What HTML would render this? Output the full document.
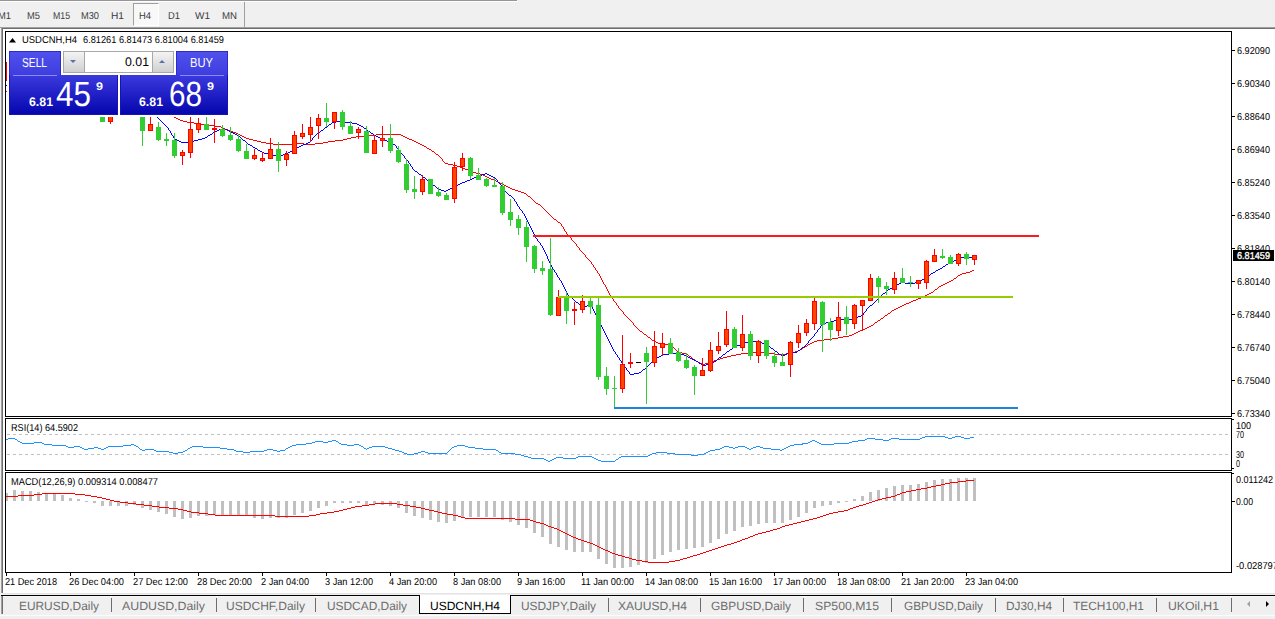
<!DOCTYPE html>
<html><head><meta charset="utf-8"><style>
html,body{margin:0;padding:0;}
body{width:1275px;height:619px;overflow:hidden;background:#f0f0f0;position:relative;font-family:"Liberation Sans",sans-serif;}
.a{position:absolute;}
svg{position:absolute;left:0;top:0;}
</style></head><body>
<div class="a" style="left:0;top:0;width:517px;height:1px;background:#969696"></div>
<div class="a" style="left:0;top:1px;width:518px;height:1px;background:#fff"></div>
<div class="a" style="left:133px;top:3px;width:26px;height:23px;box-sizing:border-box;border-left:1px solid #a0a0a0;border-top:1px solid #a0a0a0;border-right:1px solid #fff;border-bottom:1px solid #fff;background:#f8f8f8"></div>
<div class="a" style="left:244px;top:2px;width:1px;height:25px;background:#a0a0a0"></div>
<div class="a" style="left:3px;top:29px;width:1272px;height:564px;background:#fff"></div>
<svg width="1275" height="619">
<g shape-rendering="crispEdges"><rect x="0" y="27" width="1275" height="1" fill="#a0a0a0"/><rect x="2" y="28" width="1273" height="1" fill="#6e6e6e"/><rect x="1" y="28" width="1" height="565" fill="#a0a0a0"/><rect x="2" y="28" width="1" height="565" fill="#6e6e6e"/><rect x="3" y="593" width="1272" height="1" fill="#e3e3e3"/><rect x="5.5" y="31.5" width="1226" height="385" fill="none" stroke="#000" stroke-width="1"/><rect x="5.5" y="418.5" width="1226" height="52" fill="none" stroke="#000" stroke-width="1"/><rect x="5.5" y="472.5" width="1226" height="100" fill="none" stroke="#000" stroke-width="1"/><rect x="1232" y="50" width="3" height="1" fill="#000"/><rect x="1232" y="83" width="3" height="1" fill="#000"/><rect x="1232" y="116" width="3" height="1" fill="#000"/><rect x="1232" y="149" width="3" height="1" fill="#000"/><rect x="1232" y="182" width="3" height="1" fill="#000"/><rect x="1232" y="215" width="3" height="1" fill="#000"/><rect x="1232" y="248" width="3" height="1" fill="#000"/><rect x="1232" y="281" width="3" height="1" fill="#000"/><rect x="1232" y="314" width="3" height="1" fill="#000"/><rect x="1232" y="347" width="3" height="1" fill="#000"/><rect x="1232" y="380" width="3" height="1" fill="#000"/><rect x="1232" y="413" width="3" height="1" fill="#000"/><rect x="1232" y="419" width="2" height="1" fill="#000"/><rect x="1232" y="468" width="2" height="1" fill="#000"/><rect x="1232" y="501" width="3" height="1" fill="#000"/><rect x="1232" y="473" width="2" height="1" fill="#000"/><rect x="6" y="573" width="1" height="3" fill="#000"/><rect x="70" y="573" width="1" height="3" fill="#000"/><rect x="134" y="573" width="1" height="3" fill="#000"/><rect x="198" y="573" width="1" height="3" fill="#000"/><rect x="262" y="573" width="1" height="3" fill="#000"/><rect x="326" y="573" width="1" height="3" fill="#000"/><rect x="390" y="573" width="1" height="3" fill="#000"/><rect x="454" y="573" width="1" height="3" fill="#000"/><rect x="518" y="573" width="1" height="3" fill="#000"/><rect x="582" y="573" width="1" height="3" fill="#000"/><rect x="646" y="573" width="1" height="3" fill="#000"/><rect x="710" y="573" width="1" height="3" fill="#000"/><rect x="774" y="573" width="1" height="3" fill="#000"/><rect x="838" y="573" width="1" height="3" fill="#000"/><rect x="902" y="573" width="1" height="3" fill="#000"/><rect x="966" y="573" width="1" height="3" fill="#000"/></g><defs><clipPath id="cm"><rect x="6" y="32" width="1225" height="384"/></clipPath><clipPath id="cr"><rect x="6" y="419" width="1225" height="51"/></clipPath><clipPath id="cd"><rect x="6" y="473" width="1225" height="99"/></clipPath></defs><g clip-path="url(#cm)" shape-rendering="crispEdges"><path d="M174 117h2v1h-2zM176 118h2v1h-2zM178 119h2v1h-2zM180 120h3v1h-3zM183 121h4v1h-4zM187 122h7v1h-7zM194 123h7v1h-7zM201 124h5v1h-5zM206 125h8v1h-8zM214 126h7v1h-7zM221 127h2v1h-2zM223 128h2v1h-2zM225 129h3v1h-3zM228 130h3v1h-3zM231 131h2v1h-2zM233 132h3v1h-3zM236 133h2v1h-2zM238 134h2v1h-2zM376 134h25v1h-25zM240 135h2v1h-2zM364 135h12v1h-12zM401 135h2v1h-2zM242 136h2v1h-2zM356 136h8v1h-8zM403 136h2v1h-2zM244 137h2v1h-2zM351 137h5v1h-5zM405 137h2v1h-2zM246 138h3v1h-3zM347 138h4v1h-4zM407 138h2v1h-2zM249 139h4v1h-4zM343 139h4v1h-4zM409 139h3v1h-3zM253 140h4v1h-4zM335 140h8v1h-8zM412 140h2v1h-2zM257 141h4v1h-4zM328 141h7v1h-7zM414 141h2v1h-2zM261 142h5v1h-5zM323 142h5v1h-5zM416 142h2v1h-2zM266 143h7v1h-7zM294 143h10v1h-10zM315 143h8v1h-8zM418 143h2v1h-2zM273 144h21v1h-21zM304 144h11v1h-11zM420 144h2v1h-2zM422 145h2v1h-2zM424 146h2v1h-2zM426 147h1v1h-1zM427 148h2v1h-2zM429 149h2v1h-2zM431 150h1v1h-1zM432 151h2v1h-2zM434 152h1v1h-1zM435 153h1v1h-1zM436 154h2v1h-2zM438 155h1v1h-1zM439 156h1v1h-1zM440 157h1v1h-1zM441 158h1v1h-1zM442 159h1v1h-1zM442 160h1v1h-1zM443 161h1v1h-1zM444 162h1v1h-1zM445 163h3v1h-3zM448 164h5v1h-5zM453 165h4v1h-4zM457 166h3v1h-3zM460 167h2v1h-2zM462 168h3v1h-3zM465 169h3v1h-3zM468 170h2v1h-2zM470 171h3v1h-3zM473 172h3v1h-3zM476 173h4v1h-4zM480 174h3v1h-3zM483 175h2v1h-2zM485 176h2v1h-2zM487 177h2v1h-2zM489 178h2v1h-2zM491 179h3v1h-3zM494 180h2v1h-2zM496 181h2v1h-2zM498 182h2v1h-2zM500 183h2v1h-2zM502 184h2v1h-2zM504 185h2v1h-2zM506 186h2v1h-2zM508 187h2v1h-2zM510 188h2v1h-2zM512 189h3v1h-3zM515 190h3v1h-3zM518 191h3v1h-3zM521 192h3v1h-3zM524 193h2v1h-2zM526 194h1v1h-1zM527 195h1v1h-1zM528 196h2v1h-2zM530 197h1v1h-1zM531 198h1v1h-1zM532 199h1v1h-1zM533 200h1v1h-1zM534 201h1v1h-1zM535 202h1v1h-1zM536 203h2v1h-2zM538 204h2v1h-2zM540 205h1v1h-1zM541 206h1v1h-1zM542 207h1v1h-1zM543 208h1v1h-1zM544 209h1v1h-1zM545 210h1v1h-1zM546 211h1v1h-1zM547 212h1v1h-1zM548 213h1v1h-1zM549 214h1v1h-1zM550 215h1v1h-1zM551 216h1v1h-1zM552 217h1v1h-1zM553 218h1v1h-1zM554 219h2v1h-2zM556 220h1v1h-1zM557 221h1v1h-1zM558 222h2v1h-2zM560 223h1v1h-1zM561 224h1v1h-1zM561 225h1v1h-1zM562 226h1v1h-1zM563 227h1v1h-1zM563 228h1v1h-1zM564 229h1v1h-1zM564 230h1v1h-1zM565 231h1v1h-1zM566 232h1v1h-1zM566 233h1v1h-1zM567 234h1v1h-1zM568 235h1v1h-1zM569 236h1v1h-1zM570 237h1v1h-1zM571 238h1v1h-1zM571 239h1v1h-1zM572 240h1v1h-1zM573 241h1v1h-1zM574 242h1v1h-1zM575 243h1v1h-1zM576 244h1v1h-1zM576 245h1v1h-1zM577 246h1v1h-1zM578 247h1v1h-1zM579 248h1v1h-1zM579 249h1v1h-1zM580 250h1v1h-1zM581 251h1v1h-1zM582 252h1v1h-1zM583 253h1v1h-1zM584 254h1v1h-1zM585 255h1v1h-1zM585 256h1v1h-1zM586 257h1v1h-1zM587 258h1v1h-1zM588 259h1v1h-1zM589 260h1v1h-1zM590 261h1v1h-1zM591 262h1v1h-1zM591 263h1v1h-1zM592 264h1v1h-1zM593 265h1v1h-1zM593 266h1v1h-1zM594 267h1v1h-1zM595 268h1v1h-1zM595 269h1v1h-1zM596 270h1v1h-1zM972 270h2v1h-2zM597 271h1v1h-1zM970 271h2v1h-2zM597 272h1v1h-1zM966 272h4v1h-4zM598 273h1v1h-1zM962 273h4v1h-4zM599 274h1v1h-1zM960 274h2v1h-2zM599 275h1v1h-1zM958 275h2v1h-2zM600 276h1v1h-1zM957 276h1v1h-1zM600 277h1v1h-1zM956 277h1v1h-1zM601 278h1v1h-1zM954 278h2v1h-2zM601 279h1v1h-1zM953 279h1v1h-1zM602 280h1v1h-1zM951 280h2v1h-2zM602 281h1v1h-1zM949 281h2v1h-2zM603 282h1v1h-1zM947 282h2v1h-2zM603 283h1v1h-1zM945 283h2v1h-2zM604 284h1v1h-1zM943 284h2v1h-2zM605 285h1v1h-1zM941 285h2v1h-2zM605 286h1v1h-1zM939 286h2v1h-2zM606 287h1v1h-1zM938 287h1v1h-1zM606 288h1v1h-1zM937 288h1v1h-1zM607 289h1v1h-1zM935 289h2v1h-2zM607 290h1v1h-1zM934 290h1v1h-1zM608 291h1v1h-1zM933 291h1v1h-1zM608 292h1v1h-1zM931 292h2v1h-2zM609 293h1v1h-1zM929 293h2v1h-2zM609 294h1v1h-1zM927 294h2v1h-2zM610 295h1v1h-1zM925 295h2v1h-2zM611 296h1v1h-1zM923 296h2v1h-2zM611 297h1v1h-1zM921 297h2v1h-2zM612 298h1v1h-1zM918 298h3v1h-3zM613 299h1v1h-1zM916 299h2v1h-2zM613 300h1v1h-1zM913 300h3v1h-3zM614 301h1v1h-1zM911 301h2v1h-2zM615 302h1v1h-1zM909 302h2v1h-2zM616 303h1v1h-1zM906 303h3v1h-3zM616 304h1v1h-1zM904 304h2v1h-2zM617 305h1v1h-1zM902 305h2v1h-2zM618 306h1v1h-1zM900 306h2v1h-2zM618 307h1v1h-1zM898 307h2v1h-2zM619 308h1v1h-1zM896 308h2v1h-2zM620 309h1v1h-1zM894 309h2v1h-2zM621 310h1v1h-1zM892 310h2v1h-2zM622 311h1v1h-1zM891 311h1v1h-1zM623 312h1v1h-1zM890 312h1v1h-1zM623 313h1v1h-1zM888 313h2v1h-2zM624 314h1v1h-1zM887 314h1v1h-1zM625 315h1v1h-1zM885 315h2v1h-2zM626 316h1v1h-1zM884 316h1v1h-1zM627 317h1v1h-1zM883 317h1v1h-1zM628 318h1v1h-1zM881 318h2v1h-2zM629 319h1v1h-1zM880 319h1v1h-1zM630 320h1v1h-1zM878 320h2v1h-2zM631 321h1v1h-1zM877 321h1v1h-1zM632 322h1v1h-1zM875 322h2v1h-2zM633 323h1v1h-1zM874 323h1v1h-1zM633 324h1v1h-1zM873 324h1v1h-1zM634 325h1v1h-1zM871 325h2v1h-2zM635 326h1v1h-1zM869 326h2v1h-2zM636 327h1v1h-1zM867 327h2v1h-2zM637 328h1v1h-1zM865 328h2v1h-2zM638 329h1v1h-1zM863 329h2v1h-2zM639 330h1v1h-1zM860 330h3v1h-3zM640 331h2v1h-2zM858 331h2v1h-2zM642 332h1v1h-1zM856 332h2v1h-2zM643 333h1v1h-1zM854 333h2v1h-2zM644 334h2v1h-2zM852 334h2v1h-2zM646 335h1v1h-1zM849 335h3v1h-3zM647 336h1v1h-1zM843 336h6v1h-6zM648 337h2v1h-2zM838 337h5v1h-5zM650 338h1v1h-1zM832 338h6v1h-6zM651 339h1v1h-1zM824 339h8v1h-8zM652 340h2v1h-2zM817 340h7v1h-7zM654 341h2v1h-2zM814 341h3v1h-3zM656 342h2v1h-2zM812 342h2v1h-2zM658 343h2v1h-2zM810 343h2v1h-2zM660 344h11v1h-11zM808 344h2v1h-2zM671 345h1v1h-1zM807 345h1v1h-1zM672 346h1v1h-1zM805 346h2v1h-2zM673 347h1v1h-1zM803 347h2v1h-2zM674 348h1v1h-1zM802 348h1v1h-1zM675 349h1v1h-1zM800 349h2v1h-2zM676 350h1v1h-1zM798 350h2v1h-2zM677 351h2v1h-2zM795 351h3v1h-3zM679 352h3v1h-3zM752 352h13v1h-13zM793 352h2v1h-2zM682 353h4v1h-4zM741 353h11v1h-11zM765 353h10v1h-10zM786 353h7v1h-7zM686 354h2v1h-2zM736 354h5v1h-5zM775 354h11v1h-11zM688 355h1v1h-1zM731 355h5v1h-5zM689 356h2v1h-2zM727 356h4v1h-4zM691 357h1v1h-1zM723 357h4v1h-4zM692 358h1v1h-1zM720 358h3v1h-3zM693 359h2v1h-2zM717 359h3v1h-3zM695 360h1v1h-1zM714 360h3v1h-3zM696 361h2v1h-2zM711 361h3v1h-3zM698 362h2v1h-2zM708 362h3v1h-3zM700 363h2v1h-2zM705 363h3v1h-3zM702 364h3v1h-3z" fill="#ff0000"/><path d="M157 117h1v1h-1zM158 118h1v1h-1zM159 119h1v1h-1zM160 120h1v1h-1zM161 121h1v1h-1zM336 121h8v1h-8zM162 122h1v1h-1zM332 122h4v1h-4zM344 122h8v1h-8zM163 123h1v1h-1zM331 123h1v1h-1zM352 123h5v1h-5zM164 124h1v1h-1zM329 124h2v1h-2zM357 124h2v1h-2zM165 125h1v1h-1zM328 125h1v1h-1zM359 125h2v1h-2zM166 126h1v1h-1zM327 126h1v1h-1zM361 126h2v1h-2zM167 127h1v1h-1zM325 127h2v1h-2zM363 127h1v1h-1zM168 128h1v1h-1zM324 128h1v1h-1zM364 128h2v1h-2zM168 129h1v1h-1zM219 129h8v1h-8zM323 129h1v1h-1zM366 129h1v1h-1zM169 130h1v1h-1zM217 130h2v1h-2zM227 130h2v1h-2zM321 130h2v1h-2zM367 130h1v1h-1zM170 131h1v1h-1zM215 131h2v1h-2zM229 131h2v1h-2zM320 131h1v1h-1zM368 131h2v1h-2zM170 132h1v1h-1zM213 132h2v1h-2zM231 132h2v1h-2zM319 132h1v1h-1zM370 132h1v1h-1zM171 133h1v1h-1zM212 133h1v1h-1zM233 133h2v1h-2zM317 133h2v1h-2zM371 133h2v1h-2zM171 134h1v1h-1zM210 134h2v1h-2zM235 134h2v1h-2zM316 134h1v1h-1zM373 134h1v1h-1zM172 135h1v1h-1zM208 135h2v1h-2zM237 135h2v1h-2zM315 135h1v1h-1zM374 135h2v1h-2zM173 136h1v1h-1zM207 136h1v1h-1zM239 136h1v1h-1zM314 136h1v1h-1zM376 136h2v1h-2zM173 137h1v1h-1zM205 137h2v1h-2zM240 137h1v1h-1zM313 137h1v1h-1zM378 137h2v1h-2zM174 138h1v1h-1zM202 138h3v1h-3zM241 138h1v1h-1zM312 138h1v1h-1zM380 138h2v1h-2zM175 139h2v1h-2zM198 139h4v1h-4zM242 139h1v1h-1zM312 139h1v1h-1zM382 139h3v1h-3zM177 140h2v1h-2zM194 140h4v1h-4zM243 140h2v1h-2zM311 140h1v1h-1zM385 140h2v1h-2zM179 141h2v1h-2zM190 141h4v1h-4zM245 141h1v1h-1zM310 141h1v1h-1zM387 141h2v1h-2zM181 142h9v1h-9zM246 142h1v1h-1zM308 142h2v1h-2zM389 142h2v1h-2zM247 143h1v1h-1zM306 143h2v1h-2zM391 143h2v1h-2zM248 144h2v1h-2zM303 144h3v1h-3zM393 144h2v1h-2zM250 145h2v1h-2zM301 145h2v1h-2zM395 145h1v1h-1zM252 146h1v1h-1zM299 146h2v1h-2zM396 146h1v1h-1zM253 147h2v1h-2zM297 147h2v1h-2zM396 147h1v1h-1zM255 148h2v1h-2zM296 148h1v1h-1zM397 148h1v1h-1zM257 149h1v1h-1zM294 149h2v1h-2zM398 149h1v1h-1zM258 150h2v1h-2zM292 150h2v1h-2zM399 150h1v1h-1zM260 151h2v1h-2zM290 151h2v1h-2zM399 151h1v1h-1zM262 152h2v1h-2zM288 152h2v1h-2zM400 152h1v1h-1zM264 153h4v1h-4zM285 153h3v1h-3zM401 153h1v1h-1zM268 154h4v1h-4zM283 154h2v1h-2zM402 154h1v1h-1zM272 155h11v1h-11zM403 155h1v1h-1zM404 156h1v1h-1zM404 157h1v1h-1zM405 158h1v1h-1zM406 159h1v1h-1zM407 160h1v1h-1zM408 161h1v1h-1zM408 162h1v1h-1zM409 163h1v1h-1zM410 164h1v1h-1zM410 165h1v1h-1zM411 166h1v1h-1zM412 167h1v1h-1zM412 168h1v1h-1zM413 169h1v1h-1zM414 170h1v1h-1zM415 171h2v1h-2zM417 172h1v1h-1zM418 173h1v1h-1zM485 173h2v1h-2zM419 174h2v1h-2zM482 174h3v1h-3zM487 174h2v1h-2zM421 175h1v1h-1zM479 175h3v1h-3zM489 175h2v1h-2zM422 176h1v1h-1zM476 176h3v1h-3zM491 176h2v1h-2zM423 177h2v1h-2zM474 177h2v1h-2zM493 177h2v1h-2zM425 178h1v1h-1zM472 178h2v1h-2zM495 178h1v1h-1zM426 179h1v1h-1zM470 179h2v1h-2zM496 179h1v1h-1zM427 180h2v1h-2zM467 180h3v1h-3zM497 180h1v1h-1zM429 181h1v1h-1zM465 181h2v1h-2zM497 181h1v1h-1zM430 182h1v1h-1zM462 182h3v1h-3zM498 182h1v1h-1zM431 183h1v1h-1zM460 183h2v1h-2zM499 183h1v1h-1zM432 184h1v1h-1zM458 184h2v1h-2zM500 184h1v1h-1zM433 185h2v1h-2zM456 185h2v1h-2zM501 185h1v1h-1zM435 186h1v1h-1zM454 186h2v1h-2zM501 186h1v1h-1zM436 187h1v1h-1zM452 187h2v1h-2zM502 187h1v1h-1zM437 188h2v1h-2zM450 188h2v1h-2zM503 188h1v1h-1zM439 189h2v1h-2zM448 189h2v1h-2zM504 189h1v1h-1zM441 190h3v1h-3zM446 190h2v1h-2zM504 190h1v1h-1zM444 191h2v1h-2zM505 191h1v1h-1zM506 192h1v1h-1zM507 193h1v1h-1zM508 194h1v1h-1zM509 195h2v1h-2zM511 196h1v1h-1zM512 197h1v1h-1zM513 198h1v1h-1zM514 199h1v1h-1zM514 200h1v1h-1zM515 201h1v1h-1zM516 202h1v1h-1zM516 203h1v1h-1zM517 204h1v1h-1zM517 205h1v1h-1zM518 206h1v1h-1zM519 207h1v1h-1zM519 208h1v1h-1zM520 209h1v1h-1zM521 210h1v1h-1zM522 211h1v1h-1zM522 212h1v1h-1zM523 213h1v1h-1zM524 214h1v1h-1zM524 215h1v1h-1zM525 216h1v1h-1zM525 217h1v1h-1zM526 218h1v1h-1zM526 219h1v1h-1zM527 220h1v1h-1zM527 221h1v1h-1zM528 222h1v1h-1zM528 223h1v1h-1zM529 224h1v1h-1zM529 225h1v1h-1zM530 226h1v1h-1zM530 227h1v1h-1zM531 228h1v1h-1zM531 229h1v1h-1zM532 230h1v1h-1zM532 231h1v1h-1zM533 232h1v1h-1zM533 233h1v1h-1zM534 234h1v1h-1zM534 235h1v1h-1zM535 236h1v1h-1zM535 237h1v1h-1zM536 238h1v1h-1zM537 239h1v1h-1zM537 240h1v1h-1zM538 241h1v1h-1zM539 242h1v1h-1zM540 243h1v1h-1zM540 244h1v1h-1zM541 245h1v1h-1zM542 246h1v1h-1zM542 247h1v1h-1zM543 248h1v1h-1zM543 249h1v1h-1zM544 250h1v1h-1zM544 251h1v1h-1zM545 252h1v1h-1zM545 253h1v1h-1zM546 254h1v1h-1zM546 255h1v1h-1zM547 256h1v1h-1zM547 257h1v1h-1zM960 257h15v1h-15zM547 258h1v1h-1zM958 258h2v1h-2zM548 259h1v1h-1zM956 259h2v1h-2zM548 260h1v1h-1zM954 260h2v1h-2zM549 261h1v1h-1zM952 261h2v1h-2zM549 262h1v1h-1zM950 262h2v1h-2zM550 263h1v1h-1zM948 263h2v1h-2zM550 264h1v1h-1zM946 264h2v1h-2zM551 265h1v1h-1zM945 265h1v1h-1zM551 266h1v1h-1zM943 266h2v1h-2zM552 267h1v1h-1zM942 267h1v1h-1zM552 268h1v1h-1zM940 268h2v1h-2zM553 269h1v1h-1zM938 269h2v1h-2zM554 270h1v1h-1zM936 270h2v1h-2zM554 271h1v1h-1zM935 271h1v1h-1zM555 272h1v1h-1zM933 272h2v1h-2zM556 273h1v1h-1zM931 273h2v1h-2zM556 274h1v1h-1zM930 274h1v1h-1zM557 275h1v1h-1zM928 275h2v1h-2zM557 276h1v1h-1zM927 276h1v1h-1zM558 277h1v1h-1zM925 277h2v1h-2zM559 278h1v1h-1zM924 278h1v1h-1zM559 279h1v1h-1zM922 279h2v1h-2zM560 280h1v1h-1zM920 280h2v1h-2zM561 281h1v1h-1zM917 281h3v1h-3zM561 282h1v1h-1zM901 282h4v1h-4zM915 282h2v1h-2zM562 283h1v1h-1zM899 283h2v1h-2zM905 283h10v1h-10zM562 284h1v1h-1zM897 284h2v1h-2zM563 285h1v1h-1zM895 285h2v1h-2zM563 286h1v1h-1zM893 286h2v1h-2zM564 287h1v1h-1zM892 287h1v1h-1zM564 288h1v1h-1zM890 288h2v1h-2zM565 289h1v1h-1zM888 289h2v1h-2zM565 290h1v1h-1zM887 290h1v1h-1zM566 291h1v1h-1zM886 291h1v1h-1zM566 292h1v1h-1zM885 292h1v1h-1zM567 293h1v1h-1zM883 293h2v1h-2zM567 294h1v1h-1zM882 294h1v1h-1zM568 295h1v1h-1zM881 295h1v1h-1zM569 296h1v1h-1zM880 296h1v1h-1zM570 297h2v1h-2zM879 297h1v1h-1zM572 298h1v1h-1zM878 298h1v1h-1zM573 299h1v1h-1zM877 299h1v1h-1zM574 300h1v1h-1zM876 300h1v1h-1zM575 301h1v1h-1zM875 301h1v1h-1zM576 302h2v1h-2zM874 302h1v1h-1zM578 303h1v1h-1zM873 303h1v1h-1zM579 304h2v1h-2zM589 304h2v1h-2zM872 304h1v1h-1zM581 305h4v1h-4zM587 305h2v1h-2zM591 305h1v1h-1zM870 305h2v1h-2zM585 306h2v1h-2zM591 306h1v1h-1zM869 306h1v1h-1zM592 307h1v1h-1zM868 307h1v1h-1zM592 308h1v1h-1zM867 308h1v1h-1zM593 309h1v1h-1zM866 309h1v1h-1zM593 310h1v1h-1zM866 310h1v1h-1zM594 311h1v1h-1zM865 311h1v1h-1zM594 312h1v1h-1zM864 312h1v1h-1zM595 313h1v1h-1zM863 313h1v1h-1zM595 314h1v1h-1zM863 314h1v1h-1zM596 315h1v1h-1zM861 315h2v1h-2zM596 316h1v1h-1zM858 316h3v1h-3zM597 317h1v1h-1zM855 317h3v1h-3zM597 318h1v1h-1zM852 318h3v1h-3zM598 319h1v1h-1zM840 319h12v1h-12zM598 320h1v1h-1zM834 320h6v1h-6zM599 321h1v1h-1zM830 321h4v1h-4zM599 322h1v1h-1zM826 322h4v1h-4zM600 323h1v1h-1zM824 323h2v1h-2zM600 324h1v1h-1zM822 324h2v1h-2zM601 325h1v1h-1zM821 325h1v1h-1zM601 326h1v1h-1zM820 326h1v1h-1zM602 327h1v1h-1zM820 327h1v1h-1zM602 328h1v1h-1zM819 328h1v1h-1zM603 329h1v1h-1zM818 329h1v1h-1zM603 330h1v1h-1zM817 330h1v1h-1zM604 331h1v1h-1zM817 331h1v1h-1zM604 332h1v1h-1zM816 332h1v1h-1zM605 333h1v1h-1zM815 333h1v1h-1zM605 334h1v1h-1zM814 334h1v1h-1zM606 335h1v1h-1zM814 335h1v1h-1zM606 336h1v1h-1zM813 336h1v1h-1zM607 337h1v1h-1zM812 337h1v1h-1zM607 338h1v1h-1zM811 338h1v1h-1zM608 339h1v1h-1zM810 339h1v1h-1zM608 340h1v1h-1zM809 340h1v1h-1zM609 341h1v1h-1zM751 341h7v1h-7zM808 341h1v1h-1zM609 342h1v1h-1zM745 342h6v1h-6zM758 342h4v1h-4zM808 342h1v1h-1zM610 343h1v1h-1zM742 343h3v1h-3zM762 343h3v1h-3zM807 343h1v1h-1zM610 344h1v1h-1zM740 344h2v1h-2zM765 344h2v1h-2zM806 344h1v1h-1zM611 345h1v1h-1zM737 345h3v1h-3zM767 345h1v1h-1zM805 345h1v1h-1zM611 346h1v1h-1zM735 346h2v1h-2zM768 346h2v1h-2zM804 346h1v1h-1zM612 347h1v1h-1zM733 347h2v1h-2zM770 347h1v1h-1zM802 347h2v1h-2zM612 348h1v1h-1zM732 348h1v1h-1zM771 348h2v1h-2zM801 348h1v1h-1zM613 349h1v1h-1zM730 349h2v1h-2zM773 349h1v1h-1zM800 349h1v1h-1zM613 350h1v1h-1zM729 350h1v1h-1zM774 350h1v1h-1zM798 350h2v1h-2zM614 351h1v1h-1zM727 351h2v1h-2zM775 351h2v1h-2zM797 351h1v1h-1zM615 352h1v1h-1zM726 352h1v1h-1zM777 352h1v1h-1zM792 352h5v1h-5zM615 353h1v1h-1zM669 353h10v1h-10zM725 353h1v1h-1zM778 353h1v1h-1zM787 353h5v1h-5zM616 354h1v1h-1zM663 354h6v1h-6zM679 354h5v1h-5zM723 354h2v1h-2zM779 354h2v1h-2zM785 354h2v1h-2zM617 355h1v1h-1zM661 355h2v1h-2zM684 355h2v1h-2zM722 355h1v1h-1zM781 355h1v1h-1zM783 355h2v1h-2zM617 356h1v1h-1zM659 356h2v1h-2zM686 356h2v1h-2zM721 356h1v1h-1zM782 356h1v1h-1zM618 357h1v1h-1zM657 357h2v1h-2zM688 357h2v1h-2zM719 357h2v1h-2zM619 358h1v1h-1zM655 358h2v1h-2zM690 358h2v1h-2zM718 358h1v1h-1zM619 359h1v1h-1zM654 359h1v1h-1zM692 359h2v1h-2zM717 359h1v1h-1zM620 360h1v1h-1zM653 360h1v1h-1zM694 360h2v1h-2zM716 360h1v1h-1zM621 361h1v1h-1zM652 361h1v1h-1zM696 361h2v1h-2zM714 361h2v1h-2zM621 362h1v1h-1zM651 362h1v1h-1zM698 362h1v1h-1zM713 362h1v1h-1zM622 363h1v1h-1zM650 363h1v1h-1zM699 363h2v1h-2zM710 363h3v1h-3zM623 364h1v1h-1zM649 364h1v1h-1zM701 364h2v1h-2zM706 364h4v1h-4zM623 365h1v1h-1zM648 365h1v1h-1zM703 365h3v1h-3zM624 366h1v1h-1zM647 366h1v1h-1zM625 367h1v1h-1zM646 367h1v1h-1zM626 368h1v1h-1zM645 368h1v1h-1zM626 369h1v1h-1zM643 369h2v1h-2zM627 370h1v1h-1zM642 370h1v1h-1zM628 371h1v1h-1zM641 371h1v1h-1zM629 372h1v1h-1zM639 372h2v1h-2zM629 373h1v1h-1zM634 373h5v1h-5zM630 374h4v1h-4z" fill="#0000ff"/><rect x="6" y="62" width="1" height="19" fill="#ff0000"/>
<rect x="102" y="100" width="1" height="22" fill="#32cd32"/>
<rect x="100" y="100" width="5" height="22" fill="#32cd32"/>
<rect x="110" y="100" width="1" height="24" fill="#ff0000"/>
<rect x="108" y="100" width="5" height="22" fill="#ff0000"/>
<rect x="109" y="101" width="3" height="20" fill="#ff4500"/>
<rect x="142" y="117" width="1" height="29" fill="#32cd32"/>
<rect x="140" y="117" width="5" height="14" fill="#32cd32"/>
<rect x="150" y="117" width="1" height="14" fill="#ff0000"/>
<rect x="148" y="124" width="5" height="7" fill="#ff0000"/>
<rect x="149" y="125" width="3" height="5" fill="#ff4500"/>
<rect x="158" y="122" width="1" height="19" fill="#32cd32"/>
<rect x="156" y="127" width="5" height="13" fill="#32cd32"/>
<rect x="166" y="133" width="1" height="13" fill="#32cd32"/>
<rect x="164" y="139" width="5" height="2" fill="#32cd32"/>
<rect x="174" y="133" width="1" height="25" fill="#32cd32"/>
<rect x="172" y="140" width="5" height="16" fill="#32cd32"/>
<rect x="182" y="150" width="1" height="15" fill="#ff0000"/>
<rect x="180" y="152" width="5" height="4" fill="#ff0000"/>
<rect x="181" y="153" width="3" height="2" fill="#ff4500"/>
<rect x="190" y="117" width="1" height="41" fill="#ff0000"/>
<rect x="188" y="129" width="5" height="24" fill="#ff0000"/>
<rect x="189" y="130" width="3" height="22" fill="#ff4500"/>
<rect x="198" y="118" width="1" height="15" fill="#ff0000"/>
<rect x="196" y="123" width="5" height="7" fill="#ff0000"/>
<rect x="197" y="124" width="3" height="5" fill="#ff4500"/>
<rect x="206" y="117" width="1" height="13" fill="#32cd32"/>
<rect x="204" y="124" width="5" height="6" fill="#32cd32"/>
<rect x="214" y="119" width="1" height="24" fill="#ff0000"/>
<rect x="212" y="128" width="5" height="2" fill="#ff0000"/>
<rect x="222" y="125" width="1" height="12" fill="#32cd32"/>
<rect x="220" y="129" width="5" height="7" fill="#32cd32"/>
<rect x="230" y="127" width="1" height="14" fill="#32cd32"/>
<rect x="228" y="135" width="5" height="5" fill="#32cd32"/>
<rect x="238" y="134" width="1" height="18" fill="#32cd32"/>
<rect x="236" y="139" width="5" height="12" fill="#32cd32"/>
<rect x="246" y="144" width="1" height="15" fill="#32cd32"/>
<rect x="244" y="151" width="5" height="8" fill="#32cd32"/>
<rect x="254" y="149" width="1" height="11" fill="#ff0000"/>
<rect x="252" y="155" width="5" height="4" fill="#ff0000"/>
<rect x="253" y="156" width="3" height="2" fill="#ff4500"/>
<rect x="262" y="152" width="1" height="10" fill="#ff0000"/>
<rect x="260" y="158" width="5" height="3" fill="#ff0000"/>
<rect x="261" y="159" width="3" height="1" fill="#ff4500"/>
<rect x="270" y="138" width="1" height="21" fill="#ff0000"/>
<rect x="268" y="149" width="5" height="10" fill="#ff0000"/>
<rect x="269" y="150" width="3" height="8" fill="#ff4500"/>
<rect x="278" y="142" width="1" height="30" fill="#32cd32"/>
<rect x="276" y="149" width="5" height="12" fill="#32cd32"/>
<rect x="286" y="151" width="1" height="15" fill="#ff0000"/>
<rect x="284" y="154" width="5" height="6" fill="#ff0000"/>
<rect x="285" y="155" width="3" height="4" fill="#ff4500"/>
<rect x="294" y="131" width="1" height="23" fill="#ff0000"/>
<rect x="292" y="135" width="5" height="19" fill="#ff0000"/>
<rect x="293" y="136" width="3" height="17" fill="#ff4500"/>
<rect x="302" y="124" width="1" height="15" fill="#ff0000"/>
<rect x="300" y="133" width="5" height="4" fill="#ff0000"/>
<rect x="301" y="134" width="3" height="2" fill="#ff4500"/>
<rect x="310" y="117" width="1" height="25" fill="#ff0000"/>
<rect x="308" y="127" width="5" height="8" fill="#ff0000"/>
<rect x="309" y="128" width="3" height="6" fill="#ff4500"/>
<rect x="318" y="114" width="1" height="25" fill="#ff0000"/>
<rect x="316" y="118" width="5" height="8" fill="#ff0000"/>
<rect x="317" y="119" width="3" height="6" fill="#ff4500"/>
<rect x="326" y="103" width="1" height="24" fill="#32cd32"/>
<rect x="324" y="118" width="5" height="4" fill="#32cd32"/>
<rect x="334" y="112" width="1" height="17" fill="#ff0000"/>
<rect x="332" y="112" width="5" height="10" fill="#ff0000"/>
<rect x="333" y="113" width="3" height="8" fill="#ff4500"/>
<rect x="342" y="110" width="1" height="20" fill="#32cd32"/>
<rect x="340" y="112" width="5" height="15" fill="#32cd32"/>
<rect x="350" y="121" width="1" height="13" fill="#32cd32"/>
<rect x="348" y="126" width="5" height="8" fill="#32cd32"/>
<rect x="358" y="127" width="1" height="12" fill="#ff0000"/>
<rect x="356" y="129" width="5" height="4" fill="#ff0000"/>
<rect x="357" y="130" width="3" height="2" fill="#ff4500"/>
<rect x="366" y="126" width="1" height="27" fill="#32cd32"/>
<rect x="364" y="131" width="5" height="22" fill="#32cd32"/>
<rect x="374" y="135" width="1" height="19" fill="#ff0000"/>
<rect x="372" y="140" width="5" height="14" fill="#ff0000"/>
<rect x="373" y="141" width="3" height="12" fill="#ff4500"/>
<rect x="382" y="126" width="1" height="21" fill="#ff0000"/>
<rect x="380" y="138" width="5" height="3" fill="#ff0000"/>
<rect x="381" y="139" width="3" height="1" fill="#ff4500"/>
<rect x="390" y="124" width="1" height="29" fill="#32cd32"/>
<rect x="388" y="138" width="5" height="13" fill="#32cd32"/>
<rect x="398" y="146" width="1" height="17" fill="#32cd32"/>
<rect x="396" y="150" width="5" height="12" fill="#32cd32"/>
<rect x="406" y="159" width="1" height="34" fill="#32cd32"/>
<rect x="404" y="164" width="5" height="26" fill="#32cd32"/>
<rect x="414" y="176" width="1" height="23" fill="#32cd32"/>
<rect x="412" y="189" width="5" height="3" fill="#32cd32"/>
<rect x="422" y="175" width="1" height="20" fill="#ff0000"/>
<rect x="420" y="179" width="5" height="13" fill="#ff0000"/>
<rect x="421" y="180" width="3" height="11" fill="#ff4500"/>
<rect x="430" y="179" width="1" height="15" fill="#32cd32"/>
<rect x="428" y="179" width="5" height="15" fill="#32cd32"/>
<rect x="438" y="187" width="1" height="10" fill="#32cd32"/>
<rect x="436" y="192" width="5" height="4" fill="#32cd32"/>
<rect x="446" y="193" width="1" height="7" fill="#32cd32"/>
<rect x="444" y="195" width="5" height="5" fill="#32cd32"/>
<rect x="454" y="162" width="1" height="41" fill="#ff0000"/>
<rect x="452" y="167" width="5" height="32" fill="#ff0000"/>
<rect x="453" y="168" width="3" height="30" fill="#ff4500"/>
<rect x="462" y="153" width="1" height="18" fill="#ff0000"/>
<rect x="460" y="158" width="5" height="9" fill="#ff0000"/>
<rect x="461" y="159" width="3" height="7" fill="#ff4500"/>
<rect x="470" y="157" width="1" height="22" fill="#32cd32"/>
<rect x="468" y="158" width="5" height="18" fill="#32cd32"/>
<rect x="478" y="168" width="1" height="12" fill="#32cd32"/>
<rect x="476" y="175" width="5" height="5" fill="#32cd32"/>
<rect x="486" y="178" width="1" height="9" fill="#32cd32"/>
<rect x="484" y="179" width="5" height="7" fill="#32cd32"/>
<rect x="494" y="178" width="1" height="9" fill="#32cd32"/>
<rect x="492" y="185" width="5" height="2" fill="#32cd32"/>
<rect x="502" y="182" width="1" height="33" fill="#32cd32"/>
<rect x="500" y="186" width="5" height="27" fill="#32cd32"/>
<rect x="510" y="199" width="1" height="27" fill="#32cd32"/>
<rect x="508" y="212" width="5" height="8" fill="#32cd32"/>
<rect x="518" y="215" width="1" height="20" fill="#32cd32"/>
<rect x="516" y="219" width="5" height="9" fill="#32cd32"/>
<rect x="526" y="221" width="1" height="41" fill="#32cd32"/>
<rect x="524" y="227" width="5" height="20" fill="#32cd32"/>
<rect x="534" y="245" width="1" height="28" fill="#32cd32"/>
<rect x="532" y="246" width="5" height="23" fill="#32cd32"/>
<rect x="542" y="261" width="1" height="14" fill="#32cd32"/>
<rect x="540" y="268" width="5" height="3" fill="#32cd32"/>
<rect x="550" y="238" width="1" height="78" fill="#32cd32"/>
<rect x="548" y="269" width="5" height="46" fill="#32cd32"/>
<rect x="558" y="290" width="1" height="26" fill="#ff0000"/>
<rect x="556" y="297" width="5" height="19" fill="#ff0000"/>
<rect x="557" y="298" width="3" height="17" fill="#ff4500"/>
<rect x="566" y="292" width="1" height="32" fill="#32cd32"/>
<rect x="564" y="297" width="5" height="14" fill="#32cd32"/>
<rect x="574" y="302" width="1" height="23" fill="#ff0000"/>
<rect x="572" y="309" width="5" height="2" fill="#ff0000"/>
<rect x="582" y="295" width="1" height="18" fill="#ff0000"/>
<rect x="580" y="301" width="5" height="9" fill="#ff0000"/>
<rect x="581" y="302" width="3" height="7" fill="#ff4500"/>
<rect x="590" y="298" width="1" height="16" fill="#32cd32"/>
<rect x="588" y="301" width="5" height="6" fill="#32cd32"/>
<rect x="598" y="297" width="1" height="83" fill="#32cd32"/>
<rect x="596" y="305" width="5" height="72" fill="#32cd32"/>
<rect x="606" y="367" width="1" height="28" fill="#32cd32"/>
<rect x="604" y="376" width="5" height="13" fill="#32cd32"/>
<rect x="614" y="376" width="1" height="31" fill="#32cd32"/>
<rect x="612" y="388" width="5" height="1" fill="#32cd32"/>
<rect x="622" y="335" width="1" height="58" fill="#ff0000"/>
<rect x="620" y="364" width="5" height="25" fill="#ff0000"/>
<rect x="621" y="365" width="3" height="23" fill="#ff4500"/>
<rect x="630" y="353" width="1" height="15" fill="#ff0000"/>
<rect x="628" y="362" width="5" height="2" fill="#ff0000"/>
<rect x="636" y="362" width="5" height="1" fill="#000"/>
<rect x="646" y="347" width="1" height="57" fill="#32cd32"/>
<rect x="644" y="353" width="5" height="9" fill="#32cd32"/>
<rect x="654" y="331" width="1" height="36" fill="#ff0000"/>
<rect x="652" y="346" width="5" height="17" fill="#ff0000"/>
<rect x="653" y="347" width="3" height="15" fill="#ff4500"/>
<rect x="662" y="333" width="1" height="23" fill="#ff0000"/>
<rect x="660" y="343" width="5" height="5" fill="#ff0000"/>
<rect x="661" y="344" width="3" height="3" fill="#ff4500"/>
<rect x="670" y="338" width="1" height="16" fill="#32cd32"/>
<rect x="668" y="343" width="5" height="11" fill="#32cd32"/>
<rect x="678" y="348" width="1" height="14" fill="#32cd32"/>
<rect x="676" y="352" width="5" height="9" fill="#32cd32"/>
<rect x="686" y="353" width="1" height="16" fill="#32cd32"/>
<rect x="684" y="360" width="5" height="8" fill="#32cd32"/>
<rect x="694" y="365" width="1" height="30" fill="#32cd32"/>
<rect x="692" y="367" width="5" height="9" fill="#32cd32"/>
<rect x="702" y="358" width="1" height="18" fill="#ff0000"/>
<rect x="700" y="370" width="5" height="6" fill="#ff0000"/>
<rect x="701" y="371" width="3" height="4" fill="#ff4500"/>
<rect x="710" y="342" width="1" height="30" fill="#ff0000"/>
<rect x="708" y="350" width="5" height="21" fill="#ff0000"/>
<rect x="709" y="351" width="3" height="19" fill="#ff4500"/>
<rect x="718" y="332" width="1" height="22" fill="#ff0000"/>
<rect x="716" y="346" width="5" height="5" fill="#ff0000"/>
<rect x="717" y="347" width="3" height="3" fill="#ff4500"/>
<rect x="726" y="311" width="1" height="36" fill="#ff0000"/>
<rect x="724" y="329" width="5" height="16" fill="#ff0000"/>
<rect x="725" y="330" width="3" height="14" fill="#ff4500"/>
<rect x="734" y="327" width="1" height="21" fill="#32cd32"/>
<rect x="732" y="329" width="5" height="19" fill="#32cd32"/>
<rect x="742" y="315" width="1" height="36" fill="#ff0000"/>
<rect x="740" y="334" width="5" height="14" fill="#ff0000"/>
<rect x="741" y="335" width="3" height="12" fill="#ff4500"/>
<rect x="750" y="331" width="1" height="29" fill="#32cd32"/>
<rect x="748" y="334" width="5" height="22" fill="#32cd32"/>
<rect x="758" y="340" width="1" height="23" fill="#ff0000"/>
<rect x="756" y="341" width="5" height="15" fill="#ff0000"/>
<rect x="757" y="342" width="3" height="13" fill="#ff4500"/>
<rect x="766" y="340" width="1" height="19" fill="#32cd32"/>
<rect x="764" y="340" width="5" height="16" fill="#32cd32"/>
<rect x="774" y="352" width="1" height="15" fill="#32cd32"/>
<rect x="772" y="356" width="5" height="7" fill="#32cd32"/>
<rect x="782" y="353" width="1" height="13" fill="#32cd32"/>
<rect x="780" y="362" width="5" height="4" fill="#32cd32"/>
<rect x="790" y="341" width="1" height="36" fill="#ff0000"/>
<rect x="788" y="342" width="5" height="23" fill="#ff0000"/>
<rect x="789" y="343" width="3" height="21" fill="#ff4500"/>
<rect x="798" y="325" width="1" height="23" fill="#ff0000"/>
<rect x="796" y="333" width="5" height="10" fill="#ff0000"/>
<rect x="797" y="334" width="3" height="8" fill="#ff4500"/>
<rect x="806" y="319" width="1" height="17" fill="#ff0000"/>
<rect x="804" y="323" width="5" height="10" fill="#ff0000"/>
<rect x="805" y="324" width="3" height="8" fill="#ff4500"/>
<rect x="814" y="298" width="1" height="32" fill="#ff0000"/>
<rect x="812" y="301" width="5" height="23" fill="#ff0000"/>
<rect x="813" y="302" width="3" height="21" fill="#ff4500"/>
<rect x="822" y="301" width="1" height="51" fill="#32cd32"/>
<rect x="820" y="302" width="5" height="23" fill="#32cd32"/>
<rect x="830" y="318" width="1" height="23" fill="#32cd32"/>
<rect x="828" y="322" width="5" height="8" fill="#32cd32"/>
<rect x="838" y="302" width="1" height="34" fill="#ff0000"/>
<rect x="836" y="317" width="5" height="14" fill="#ff0000"/>
<rect x="837" y="318" width="3" height="12" fill="#ff4500"/>
<rect x="846" y="306" width="1" height="29" fill="#32cd32"/>
<rect x="844" y="317" width="5" height="7" fill="#32cd32"/>
<rect x="854" y="304" width="1" height="25" fill="#ff0000"/>
<rect x="852" y="305" width="5" height="19" fill="#ff0000"/>
<rect x="853" y="306" width="3" height="17" fill="#ff4500"/>
<rect x="862" y="300" width="1" height="30" fill="#ff0000"/>
<rect x="860" y="300" width="5" height="6" fill="#ff0000"/>
<rect x="861" y="301" width="3" height="4" fill="#ff4500"/>
<rect x="870" y="274" width="1" height="27" fill="#ff0000"/>
<rect x="868" y="278" width="5" height="23" fill="#ff0000"/>
<rect x="869" y="279" width="3" height="21" fill="#ff4500"/>
<rect x="878" y="276" width="1" height="27" fill="#32cd32"/>
<rect x="876" y="278" width="5" height="9" fill="#32cd32"/>
<rect x="886" y="282" width="1" height="13" fill="#32cd32"/>
<rect x="884" y="286" width="5" height="3" fill="#32cd32"/>
<rect x="894" y="272" width="1" height="22" fill="#ff0000"/>
<rect x="892" y="278" width="5" height="12" fill="#ff0000"/>
<rect x="893" y="279" width="3" height="10" fill="#ff4500"/>
<rect x="902" y="268" width="1" height="15" fill="#32cd32"/>
<rect x="900" y="278" width="5" height="5" fill="#32cd32"/>
<rect x="910" y="276" width="1" height="11" fill="#32cd32"/>
<rect x="908" y="282" width="5" height="1" fill="#32cd32"/>
<rect x="918" y="280" width="1" height="9" fill="#ff0000"/>
<rect x="916" y="280" width="5" height="4" fill="#ff0000"/>
<rect x="917" y="281" width="3" height="2" fill="#ff4500"/>
<rect x="926" y="260" width="1" height="29" fill="#ff0000"/>
<rect x="924" y="261" width="5" height="22" fill="#ff0000"/>
<rect x="925" y="262" width="3" height="20" fill="#ff4500"/>
<rect x="934" y="249" width="1" height="13" fill="#ff0000"/>
<rect x="932" y="255" width="5" height="7" fill="#ff0000"/>
<rect x="933" y="256" width="3" height="5" fill="#ff4500"/>
<rect x="942" y="249" width="1" height="10" fill="#32cd32"/>
<rect x="940" y="256" width="5" height="2" fill="#32cd32"/>
<rect x="950" y="255" width="1" height="9" fill="#32cd32"/>
<rect x="948" y="257" width="5" height="7" fill="#32cd32"/>
<rect x="958" y="253" width="1" height="13" fill="#ff0000"/>
<rect x="956" y="254" width="5" height="10" fill="#ff0000"/>
<rect x="957" y="255" width="3" height="8" fill="#ff4500"/>
<rect x="966" y="252" width="1" height="13" fill="#32cd32"/>
<rect x="964" y="254" width="5" height="5" fill="#32cd32"/>
<rect x="974" y="255" width="1" height="10" fill="#ff0000"/>
<rect x="972" y="255" width="5" height="5" fill="#ff0000"/>
<rect x="973" y="256" width="3" height="3" fill="#ff4500"/><rect x="6" y="85" width="1" height="1" fill="#0000ff"/><rect x="6" y="91" width="1" height="1" fill="#ff0000"/><rect x="533" y="235" width="506" height="2" fill="#ff1a1a"/><rect x="558" y="296" width="455" height="2" fill="#99cc00"/><rect x="614" y="407" width="404" height="2" fill="#1e82e0"/></g><g clip-path="url(#cr)" shape-rendering="crispEdges"><line x1="6" y1="434.5" x2="1231" y2="434.5" stroke="#c0c0c0" stroke-width="1" stroke-dasharray="3,3" stroke-dashoffset="-1"/><line x1="6" y1="454.5" x2="1231" y2="454.5" stroke="#c0c0c0" stroke-width="1" stroke-dasharray="3,3" stroke-dashoffset="-1"/><path d="M925 436h20v1h-20zM955 436h6v1h-6zM922 437h3v1h-3zM945 437h3v1h-3zM952 437h3v1h-3zM961 437h3v1h-3zM970 437h4v1h-4zM8 438h7v1h-7zM867 438h8v1h-8zM891 438h8v1h-8zM920 438h2v1h-2zM948 438h4v1h-4zM964 438h6v1h-6zM5 439h3v1h-3zM15 439h2v1h-2zM865 439h2v1h-2zM875 439h8v1h-8zM889 439h2v1h-2zM899 439h21v1h-21zM17 440h1v1h-1zM332 440h4v1h-4zM812 440h3v1h-3zM858 440h7v1h-7zM883 440h6v1h-6zM18 441h2v1h-2zM315 441h8v1h-8zM328 441h4v1h-4zM336 441h2v1h-2zM810 441h2v1h-2zM815 441h2v1h-2zM852 441h6v1h-6zM20 442h2v1h-2zM34 442h8v1h-8zM312 442h3v1h-3zM323 442h5v1h-5zM338 442h1v1h-1zM808 442h2v1h-2zM817 442h2v1h-2zM849 442h3v1h-3zM22 443h12v1h-12zM42 443h2v1h-2zM306 443h6v1h-6zM339 443h2v1h-2zM802 443h6v1h-6zM819 443h2v1h-2zM834 443h15v1h-15zM44 444h8v1h-8zM131 444h3v1h-3zM296 444h10v1h-10zM341 444h6v1h-6zM354 444h5v1h-5zM794 444h9v1h-9zM821 444h13v1h-13zM52 445h14v1h-14zM123 445h8v1h-8zM134 445h2v1h-2zM292 445h4v1h-4zM347 445h7v1h-7zM359 445h2v1h-2zM457 445h8v1h-8zM790 445h4v1h-4zM66 446h2v1h-2zM74 446h6v1h-6zM108 446h15v1h-15zM136 446h2v1h-2zM192 446h11v1h-11zM290 446h2v1h-2zM361 446h2v1h-2zM372 446h13v1h-13zM454 446h3v1h-3zM465 446h3v1h-3zM724 446h5v1h-5zM738 446h7v1h-7zM756 446h4v1h-4zM788 446h2v1h-2zM68 447h6v1h-6zM80 447h2v1h-2zM94 447h4v1h-4zM106 447h2v1h-2zM138 447h1v1h-1zM190 447h2v1h-2zM203 447h17v1h-17zM288 447h2v1h-2zM363 447h1v1h-1zM369 447h3v1h-3zM385 447h3v1h-3zM452 447h2v1h-2zM468 447h7v1h-7zM722 447h2v1h-2zM729 447h4v1h-4zM735 447h3v1h-3zM745 447h2v1h-2zM753 447h3v1h-3zM760 447h3v1h-3zM786 447h2v1h-2zM82 448h2v1h-2zM88 448h6v1h-6zM98 448h3v1h-3zM104 448h2v1h-2zM139 448h1v1h-1zM188 448h2v1h-2zM220 448h7v1h-7zM286 448h2v1h-2zM364 448h2v1h-2zM367 448h2v1h-2zM388 448h4v1h-4zM451 448h1v1h-1zM475 448h8v1h-8zM720 448h2v1h-2zM733 448h2v1h-2zM747 448h2v1h-2zM751 448h2v1h-2zM763 448h8v1h-8zM784 448h2v1h-2zM84 449h4v1h-4zM101 449h3v1h-3zM140 449h2v1h-2zM145 449h9v1h-9zM187 449h1v1h-1zM227 449h7v1h-7zM267 449h6v1h-6zM285 449h1v1h-1zM366 449h1v1h-1zM392 449h3v1h-3zM450 449h1v1h-1zM483 449h13v1h-13zM715 449h5v1h-5zM749 449h2v1h-2zM771 449h9v1h-9zM782 449h2v1h-2zM142 450h3v1h-3zM154 450h2v1h-2zM185 450h2v1h-2zM234 450h2v1h-2zM264 450h3v1h-3zM273 450h4v1h-4zM280 450h5v1h-5zM395 450h4v1h-4zM449 450h1v1h-1zM496 450h2v1h-2zM710 450h5v1h-5zM780 450h2v1h-2zM156 451h13v1h-13zM183 451h2v1h-2zM236 451h7v1h-7zM250 451h14v1h-14zM277 451h3v1h-3zM399 451h3v1h-3zM421 451h4v1h-4zM448 451h1v1h-1zM498 451h1v1h-1zM708 451h2v1h-2zM169 452h4v1h-4zM178 452h5v1h-5zM243 452h7v1h-7zM402 452h2v1h-2zM418 452h3v1h-3zM425 452h3v1h-3zM447 452h1v1h-1zM499 452h2v1h-2zM656 452h11v1h-11zM706 452h2v1h-2zM173 453h5v1h-5zM404 453h3v1h-3zM414 453h4v1h-4zM428 453h19v1h-19zM501 453h14v1h-14zM652 453h4v1h-4zM667 453h8v1h-8zM704 453h2v1h-2zM407 454h7v1h-7zM515 454h6v1h-6zM650 454h2v1h-2zM675 454h16v1h-16zM698 454h6v1h-6zM521 455h3v1h-3zM648 455h2v1h-2zM691 455h7v1h-7zM524 456h4v1h-4zM578 456h14v1h-14zM621 456h27v1h-27zM528 457h3v1h-3zM556 457h7v1h-7zM576 457h2v1h-2zM592 457h2v1h-2zM619 457h2v1h-2zM531 458h13v1h-13zM554 458h2v1h-2zM563 458h13v1h-13zM594 458h2v1h-2zM618 458h1v1h-1zM544 459h2v1h-2zM552 459h2v1h-2zM596 459h2v1h-2zM616 459h2v1h-2zM546 460h2v1h-2zM550 460h2v1h-2zM598 460h3v1h-3zM615 460h1v1h-1zM548 461h2v1h-2zM601 461h14v1h-14z" fill="#1e90ff"/></g><g clip-path="url(#cd)" shape-rendering="crispEdges"><g fill="#c0c0c0"><rect x="5" y="493" width="3" height="8"/>
<rect x="13" y="490" width="3" height="11"/>
<rect x="21" y="491" width="3" height="10"/>
<rect x="29" y="491" width="3" height="10"/>
<rect x="37" y="492" width="3" height="9"/>
<rect x="45" y="494" width="3" height="7"/>
<rect x="53" y="494" width="3" height="7"/>
<rect x="61" y="495" width="3" height="6"/>
<rect x="69" y="498" width="3" height="3"/>
<rect x="77" y="499" width="3" height="2"/>
<rect x="853" y="499" width="3" height="2"/>
<rect x="861" y="496" width="3" height="5"/>
<rect x="869" y="492" width="3" height="9"/>
<rect x="877" y="490" width="3" height="11"/>
<rect x="885" y="488" width="3" height="13"/>
<rect x="893" y="486" width="3" height="15"/>
<rect x="901" y="485" width="3" height="16"/>
<rect x="909" y="485" width="3" height="16"/>
<rect x="917" y="484" width="3" height="17"/>
<rect x="925" y="482" width="3" height="19"/>
<rect x="933" y="480" width="3" height="21"/>
<rect x="941" y="479" width="3" height="22"/>
<rect x="949" y="479" width="3" height="22"/>
<rect x="957" y="478" width="3" height="23"/>
<rect x="965" y="478" width="3" height="23"/>
<rect x="973" y="478" width="3" height="23"/>
<rect x="85" y="501" width="3" height="1"/>
<rect x="93" y="501" width="3" height="2"/>
<rect x="101" y="501" width="3" height="5"/>
<rect x="109" y="501" width="3" height="5"/>
<rect x="117" y="501" width="3" height="5"/>
<rect x="125" y="501" width="3" height="5"/>
<rect x="133" y="501" width="3" height="4"/>
<rect x="141" y="501" width="3" height="7"/>
<rect x="149" y="501" width="3" height="9"/>
<rect x="157" y="501" width="3" height="11"/>
<rect x="165" y="501" width="3" height="13"/>
<rect x="173" y="501" width="3" height="16"/>
<rect x="181" y="501" width="3" height="18"/>
<rect x="189" y="501" width="3" height="17"/>
<rect x="197" y="501" width="3" height="15"/>
<rect x="205" y="501" width="3" height="15"/>
<rect x="213" y="501" width="3" height="14"/>
<rect x="221" y="501" width="3" height="14"/>
<rect x="229" y="501" width="3" height="14"/>
<rect x="237" y="501" width="3" height="14"/>
<rect x="245" y="501" width="3" height="15"/>
<rect x="253" y="501" width="3" height="17"/>
<rect x="261" y="501" width="3" height="18"/>
<rect x="269" y="501" width="3" height="17"/>
<rect x="277" y="501" width="3" height="17"/>
<rect x="285" y="501" width="3" height="17"/>
<rect x="293" y="501" width="3" height="14"/>
<rect x="301" y="501" width="3" height="12"/>
<rect x="309" y="501" width="3" height="10"/>
<rect x="317" y="501" width="3" height="7"/>
<rect x="325" y="501" width="3" height="5"/>
<rect x="333" y="501" width="3" height="2"/>
<rect x="341" y="501" width="3" height="2"/>
<rect x="349" y="501" width="3" height="2"/>
<rect x="357" y="501" width="3" height="2"/>
<rect x="365" y="501" width="3" height="4"/>
<rect x="373" y="501" width="3" height="3"/>
<rect x="381" y="501" width="3" height="4"/>
<rect x="389" y="501" width="3" height="5"/>
<rect x="397" y="501" width="3" height="7"/>
<rect x="405" y="501" width="3" height="12"/>
<rect x="413" y="501" width="3" height="15"/>
<rect x="421" y="501" width="3" height="17"/>
<rect x="429" y="501" width="3" height="19"/>
<rect x="437" y="501" width="3" height="21"/>
<rect x="445" y="501" width="3" height="22"/>
<rect x="453" y="501" width="3" height="20"/>
<rect x="461" y="501" width="3" height="16"/>
<rect x="469" y="501" width="3" height="16"/>
<rect x="477" y="501" width="3" height="16"/>
<rect x="485" y="501" width="3" height="16"/>
<rect x="493" y="501" width="3" height="16"/>
<rect x="501" y="501" width="3" height="19"/>
<rect x="509" y="501" width="3" height="21"/>
<rect x="517" y="501" width="3" height="24"/>
<rect x="525" y="501" width="3" height="27"/>
<rect x="533" y="501" width="3" height="32"/>
<rect x="541" y="501" width="3" height="36"/>
<rect x="549" y="501" width="3" height="43"/>
<rect x="557" y="501" width="3" height="46"/>
<rect x="565" y="501" width="3" height="49"/>
<rect x="573" y="501" width="3" height="51"/>
<rect x="581" y="501" width="3" height="51"/>
<rect x="589" y="501" width="3" height="51"/>
<rect x="597" y="501" width="3" height="58"/>
<rect x="605" y="501" width="3" height="63"/>
<rect x="613" y="501" width="3" height="67"/>
<rect x="621" y="501" width="3" height="67"/>
<rect x="629" y="501" width="3" height="66"/>
<rect x="637" y="501" width="3" height="64"/>
<rect x="645" y="501" width="3" height="62"/>
<rect x="653" y="501" width="3" height="58"/>
<rect x="661" y="501" width="3" height="54"/>
<rect x="669" y="501" width="3" height="51"/>
<rect x="677" y="501" width="3" height="49"/>
<rect x="685" y="501" width="3" height="48"/>
<rect x="693" y="501" width="3" height="47"/>
<rect x="701" y="501" width="3" height="46"/>
<rect x="709" y="501" width="3" height="42"/>
<rect x="717" y="501" width="3" height="38"/>
<rect x="725" y="501" width="3" height="33"/>
<rect x="733" y="501" width="3" height="30"/>
<rect x="741" y="501" width="3" height="26"/>
<rect x="749" y="501" width="3" height="25"/>
<rect x="757" y="501" width="3" height="23"/>
<rect x="765" y="501" width="3" height="22"/>
<rect x="773" y="501" width="3" height="22"/>
<rect x="781" y="501" width="3" height="22"/>
<rect x="789" y="501" width="3" height="19"/>
<rect x="797" y="501" width="3" height="16"/>
<rect x="805" y="501" width="3" height="12"/>
<rect x="813" y="501" width="3" height="7"/>
<rect x="821" y="501" width="3" height="5"/>
<rect x="829" y="501" width="3" height="4"/>
<rect x="837" y="501" width="3" height="2"/>
<rect x="845" y="501" width="3" height="1"/></g><path d="M966 480h8v1h-8zM958 481h8v1h-8zM950 482h8v1h-8zM945 483h5v1h-5zM941 484h4v1h-4zM936 485h5v1h-5zM931 486h5v1h-5zM927 487h4v1h-4zM921 488h6v1h-6zM916 489h5v1h-5zM911 490h5v1h-5zM906 491h5v1h-5zM902 492h4v1h-4zM42 493h33v1h-33zM900 493h2v1h-2zM34 494h8v1h-8zM75 494h10v1h-10zM897 494h3v1h-3zM18 495h16v1h-16zM85 495h6v1h-6zM895 495h2v1h-2zM6 496h12v1h-12zM91 496h6v1h-6zM891 496h4v1h-4zM97 497h5v1h-5zM886 497h5v1h-5zM102 498h4v1h-4zM882 498h4v1h-4zM106 499h4v1h-4zM878 499h4v1h-4zM110 500h4v1h-4zM875 500h3v1h-3zM114 501h6v1h-6zM872 501h3v1h-3zM120 502h8v1h-8zM869 502h3v1h-3zM128 503h8v1h-8zM375 503h22v1h-22zM866 503h3v1h-3zM136 504h8v1h-8zM369 504h6v1h-6zM397 504h6v1h-6zM863 504h3v1h-3zM144 505h8v1h-8zM362 505h7v1h-7zM403 505h7v1h-7zM859 505h4v1h-4zM152 506h7v1h-7zM355 506h7v1h-7zM410 506h6v1h-6zM856 506h3v1h-3zM159 507h10v1h-10zM351 507h4v1h-4zM416 507h5v1h-5zM853 507h3v1h-3zM169 508h9v1h-9zM347 508h4v1h-4zM421 508h4v1h-4zM850 508h3v1h-3zM178 509h5v1h-5zM343 509h4v1h-4zM425 509h4v1h-4zM848 509h2v1h-2zM183 510h4v1h-4zM339 510h4v1h-4zM429 510h5v1h-5zM844 510h4v1h-4zM187 511h4v1h-4zM334 511h5v1h-5zM434 511h4v1h-4zM838 511h6v1h-6zM191 512h8v1h-8zM327 512h7v1h-7zM438 512h4v1h-4zM833 512h5v1h-5zM199 513h9v1h-9zM320 513h7v1h-7zM442 513h5v1h-5zM829 513h4v1h-4zM208 514h7v1h-7zM316 514h4v1h-4zM447 514h6v1h-6zM826 514h3v1h-3zM215 515h60v1h-60zM309 515h7v1h-7zM453 515h5v1h-5zM823 515h3v1h-3zM275 516h34v1h-34zM458 516h3v1h-3zM820 516h3v1h-3zM461 517h4v1h-4zM817 517h3v1h-3zM465 518h50v1h-50zM813 518h4v1h-4zM515 519h15v1h-15zM809 519h4v1h-4zM530 520h3v1h-3zM805 520h4v1h-4zM533 521h3v1h-3zM801 521h4v1h-4zM536 522h4v1h-4zM797 522h4v1h-4zM540 523h4v1h-4zM793 523h4v1h-4zM544 524h2v1h-2zM789 524h4v1h-4zM546 525h2v1h-2zM785 525h4v1h-4zM548 526h3v1h-3zM782 526h3v1h-3zM551 527h3v1h-3zM780 527h2v1h-2zM554 528h3v1h-3zM777 528h3v1h-3zM557 529h2v1h-2zM773 529h4v1h-4zM559 530h2v1h-2zM770 530h3v1h-3zM561 531h2v1h-2zM766 531h4v1h-4zM563 532h2v1h-2zM762 532h4v1h-4zM565 533h2v1h-2zM758 533h4v1h-4zM567 534h2v1h-2zM755 534h3v1h-3zM569 535h2v1h-2zM753 535h2v1h-2zM571 536h2v1h-2zM750 536h3v1h-3zM573 537h3v1h-3zM748 537h2v1h-2zM576 538h2v1h-2zM745 538h3v1h-3zM578 539h3v1h-3zM742 539h3v1h-3zM581 540h3v1h-3zM740 540h2v1h-2zM584 541h3v1h-3zM737 541h3v1h-3zM587 542h3v1h-3zM734 542h3v1h-3zM590 543h3v1h-3zM731 543h3v1h-3zM593 544h2v1h-2zM727 544h4v1h-4zM595 545h2v1h-2zM724 545h3v1h-3zM597 546h2v1h-2zM721 546h3v1h-3zM599 547h2v1h-2zM718 547h3v1h-3zM601 548h2v1h-2zM715 548h3v1h-3zM603 549h2v1h-2zM712 549h3v1h-3zM605 550h3v1h-3zM709 550h3v1h-3zM608 551h2v1h-2zM706 551h3v1h-3zM610 552h2v1h-2zM703 552h3v1h-3zM612 553h3v1h-3zM700 553h3v1h-3zM615 554h3v1h-3zM697 554h3v1h-3zM618 555h4v1h-4zM693 555h4v1h-4zM622 556h3v1h-3zM690 556h3v1h-3zM625 557h4v1h-4zM687 557h3v1h-3zM629 558h3v1h-3zM683 558h4v1h-4zM632 559h4v1h-4zM680 559h3v1h-3zM636 560h6v1h-6zM675 560h5v1h-5zM642 561h6v1h-6zM669 561h6v1h-6zM648 562h21v1h-21z" fill="#ff0000"/></g>
<polygon points="9,42.5 12.5,38 16,42.5" fill="#000"/>
<g style='font-family:"Liberation Sans",sans-serif;' text-rendering="geometricPrecision"><text x="1237" y="54" font-size="10" font-weight="normal" fill="#000" textLength="33" lengthAdjust="spacingAndGlyphs" >6.92090</text><text x="1237" y="87" font-size="10" font-weight="normal" fill="#000" textLength="33" lengthAdjust="spacingAndGlyphs" >6.90340</text><text x="1237" y="120" font-size="10" font-weight="normal" fill="#000" textLength="33" lengthAdjust="spacingAndGlyphs" >6.88640</text><text x="1237" y="153" font-size="10" font-weight="normal" fill="#000" textLength="33" lengthAdjust="spacingAndGlyphs" >6.86940</text><text x="1237" y="186" font-size="10" font-weight="normal" fill="#000" textLength="33" lengthAdjust="spacingAndGlyphs" >6.85240</text><text x="1237" y="219" font-size="10" font-weight="normal" fill="#000" textLength="33" lengthAdjust="spacingAndGlyphs" >6.83540</text><text x="1237" y="252" font-size="10" font-weight="normal" fill="#000" textLength="33" lengthAdjust="spacingAndGlyphs" >6.81840</text><text x="1237" y="285" font-size="10" font-weight="normal" fill="#000" textLength="33" lengthAdjust="spacingAndGlyphs" >6.80140</text><text x="1237" y="318" font-size="10" font-weight="normal" fill="#000" textLength="33" lengthAdjust="spacingAndGlyphs" >6.78440</text><text x="1237" y="351" font-size="10" font-weight="normal" fill="#000" textLength="33" lengthAdjust="spacingAndGlyphs" >6.76740</text><text x="1237" y="384" font-size="10" font-weight="normal" fill="#000" textLength="33" lengthAdjust="spacingAndGlyphs" >6.75040</text><text x="1237" y="417" font-size="10" font-weight="normal" fill="#000" textLength="33" lengthAdjust="spacingAndGlyphs" >6.73340</text><text x="22" y="43" font-size="10" font-weight="normal" fill="#000" textLength="55" lengthAdjust="spacingAndGlyphs" >USDCNH,H4</text><text x="83" y="43" font-size="10" font-weight="normal" fill="#000" textLength="141" lengthAdjust="spacingAndGlyphs" >6.81261 6.81473 6.81004 6.81459</text><text x="11" y="431" font-size="10" font-weight="normal" fill="#000" textLength="67" lengthAdjust="spacingAndGlyphs" >RSI(14) 64.5902</text><text x="11" y="485" font-size="10" font-weight="normal" fill="#000" textLength="147" lengthAdjust="spacingAndGlyphs" >MACD(12,26,9) 0.009314 0.008477</text><text x="1236" y="429" font-size="10" font-weight="normal" fill="#000" textLength="15" lengthAdjust="spacingAndGlyphs" >100</text><text x="1236" y="438" font-size="10" font-weight="normal" fill="#000" textLength="8" lengthAdjust="spacingAndGlyphs" >70</text><text x="1236" y="458" font-size="10" font-weight="normal" fill="#000" textLength="8" lengthAdjust="spacingAndGlyphs" >30</text><text x="1236" y="467" font-size="10" font-weight="normal" fill="#000" textLength="4" lengthAdjust="spacingAndGlyphs" >0</text><text x="1236" y="483" font-size="10" font-weight="normal" fill="#000" textLength="37" lengthAdjust="spacingAndGlyphs" >0.011242</text><text x="1236" y="505" font-size="10" font-weight="normal" fill="#000" textLength="17" lengthAdjust="spacingAndGlyphs" >0.00</text><text x="1236" y="569" font-size="10" font-weight="normal" fill="#000" textLength="42" lengthAdjust="spacingAndGlyphs" >-0.028797</text><text x="5" y="585" font-size="10" font-weight="normal" fill="#000" textLength="52" lengthAdjust="spacingAndGlyphs" >21 Dec 2018</text><text x="69" y="585" font-size="10" font-weight="normal" fill="#000" textLength="55" lengthAdjust="spacingAndGlyphs" >26 Dec 04:00</text><text x="133" y="585" font-size="10" font-weight="normal" fill="#000" textLength="55" lengthAdjust="spacingAndGlyphs" >27 Dec 12:00</text><text x="197" y="585" font-size="10" font-weight="normal" fill="#000" textLength="55" lengthAdjust="spacingAndGlyphs" >28 Dec 20:00</text><text x="261" y="585" font-size="10" font-weight="normal" fill="#000" textLength="48" lengthAdjust="spacingAndGlyphs" >2 Jan 04:00</text><text x="325" y="585" font-size="10" font-weight="normal" fill="#000" textLength="48" lengthAdjust="spacingAndGlyphs" >3 Jan 12:00</text><text x="389" y="585" font-size="10" font-weight="normal" fill="#000" textLength="48" lengthAdjust="spacingAndGlyphs" >4 Jan 20:00</text><text x="453" y="585" font-size="10" font-weight="normal" fill="#000" textLength="48" lengthAdjust="spacingAndGlyphs" >8 Jan 08:00</text><text x="517" y="585" font-size="10" font-weight="normal" fill="#000" textLength="48" lengthAdjust="spacingAndGlyphs" >9 Jan 16:00</text><text x="581" y="585" font-size="10" font-weight="normal" fill="#000" textLength="53" lengthAdjust="spacingAndGlyphs" >11 Jan 00:00</text><text x="645" y="585" font-size="10" font-weight="normal" fill="#000" textLength="53" lengthAdjust="spacingAndGlyphs" >14 Jan 08:00</text><text x="709" y="585" font-size="10" font-weight="normal" fill="#000" textLength="53" lengthAdjust="spacingAndGlyphs" >15 Jan 16:00</text><text x="773" y="585" font-size="10" font-weight="normal" fill="#000" textLength="53" lengthAdjust="spacingAndGlyphs" >17 Jan 00:00</text><text x="837" y="585" font-size="10" font-weight="normal" fill="#000" textLength="53" lengthAdjust="spacingAndGlyphs" >18 Jan 08:00</text><text x="901" y="585" font-size="10" font-weight="normal" fill="#000" textLength="53" lengthAdjust="spacingAndGlyphs" >21 Jan 20:00</text><text x="965" y="585" font-size="10" font-weight="normal" fill="#000" textLength="53" lengthAdjust="spacingAndGlyphs" >23 Jan 04:00</text><text x="-2" y="19" font-size="10" font-weight="normal" fill="#3a3a3a" textLength="13" lengthAdjust="spacingAndGlyphs" >M1</text><text x="27" y="19" font-size="10" font-weight="normal" fill="#3a3a3a" textLength="13" lengthAdjust="spacingAndGlyphs" >M5</text><text x="53" y="19" font-size="10" font-weight="normal" fill="#3a3a3a" textLength="17" lengthAdjust="spacingAndGlyphs" >M15</text><text x="81" y="19" font-size="10" font-weight="normal" fill="#3a3a3a" textLength="18" lengthAdjust="spacingAndGlyphs" >M30</text><text x="111" y="19" font-size="10" font-weight="normal" fill="#3a3a3a" textLength="13" lengthAdjust="spacingAndGlyphs" >H1</text><text x="139" y="19" font-size="10" font-weight="normal" fill="#3a3a3a" textLength="12" lengthAdjust="spacingAndGlyphs" >H4</text><text x="168" y="19" font-size="10" font-weight="normal" fill="#3a3a3a" textLength="12" lengthAdjust="spacingAndGlyphs" >D1</text><text x="195" y="19" font-size="10" font-weight="normal" fill="#3a3a3a" textLength="15" lengthAdjust="spacingAndGlyphs" >W1</text><text x="222" y="19" font-size="10" font-weight="normal" fill="#3a3a3a" textLength="15" lengthAdjust="spacingAndGlyphs" >MN</text></g>
</svg>
<div class="a" style="left:9px;top:115px;width:219px;height:2px;background:#fff"></div>
<div class="a" style="left:61px;top:51px;width:115px;height:24px;background:#fff"></div>
<div class="a" style="left:63px;top:51px;width:111px;height:22px;box-sizing:border-box;border:1px solid #a8a8a8;background:#fff"></div>
<div class="a" style="left:64px;top:52px;width:21px;height:20px;background:linear-gradient(#f4f4f4,#d0d0d0);border-right:1px solid #a8a8a8;box-sizing:border-box"></div>
<div class="a" style="left:152px;top:52px;width:21px;height:20px;background:linear-gradient(#f4f4f4,#d0d0d0);border-left:1px solid #a8a8a8;box-sizing:border-box"></div>
<div class="a" style="left:9px;top:51px;width:52px;height:24px;box-sizing:border-box;border:1px solid #2a2ad0;border-bottom:none;background:linear-gradient(#5050ec,#3e3ee0);"></div>
<div class="a" style="left:176px;top:51px;width:52px;height:24px;box-sizing:border-box;border:1px solid #2a2ad0;border-bottom:none;background:linear-gradient(#5050ec,#3e3ee0);"></div>
<div class="a" style="left:9px;top:75px;width:109px;height:40px;box-sizing:border-box;border:1px solid #1414b8;border-top:none;background:linear-gradient(#3a3ade,#0606ae);"></div>
<div class="a" style="left:120px;top:75px;width:108px;height:40px;box-sizing:border-box;border:1px solid #1414b8;border-top:none;background:linear-gradient(#3a3ade,#0606ae);"></div>
<div class="a" style="left:13px;top:75px;width:44px;height:1px;background:#8a8af2"></div>
<div class="a" style="left:180px;top:75px;width:44px;height:1px;background:#8a8af2"></div>
<div class="a" style="left:1233px;top:250px;width:41px;height:11px;background:#000"></div>
<div class="a" style="left:1px;top:595px;width:1274px;height:1px;background:#000"></div>
<div class="a" style="left:1px;top:596px;width:1px;height:18px;background:#a0a0a0"></div>
<div class="a" style="left:2px;top:596px;width:1px;height:18px;background:#6e6e6e"></div>
<div class="a" style="left:3px;top:596px;width:1272px;height:1px;background:#f8f8f8"></div>
<div class="a" style="left:0;top:615px;width:1275px;height:1px;background:#fbfbfb"></div>
<div class="a" style="left:419px;top:595px;width:92px;height:19px;box-sizing:border-box;border:1px solid #000;border-top:none;background:#fff"></div>
<div class="a" style="left:111px;top:598px;width:1px;height:14px;background:#6d6d6d"></div><div class="a" style="left:216px;top:598px;width:1px;height:14px;background:#6d6d6d"></div><div class="a" style="left:315px;top:598px;width:1px;height:14px;background:#6d6d6d"></div><div class="a" style="left:608px;top:598px;width:1px;height:14px;background:#6d6d6d"></div><div class="a" style="left:700px;top:598px;width:1px;height:14px;background:#6d6d6d"></div><div class="a" style="left:803px;top:598px;width:1px;height:14px;background:#6d6d6d"></div><div class="a" style="left:891px;top:598px;width:1px;height:14px;background:#6d6d6d"></div><div class="a" style="left:995px;top:598px;width:1px;height:14px;background:#6d6d6d"></div><div class="a" style="left:1063px;top:598px;width:1px;height:14px;background:#6d6d6d"></div><div class="a" style="left:1156px;top:598px;width:1px;height:14px;background:#6d6d6d"></div><div class="a" style="left:1231px;top:598px;width:1px;height:14px;background:#6d6d6d"></div>
<svg width="1275" height="619">
<polygon points="70,60 76,60 73,63" fill="#5a6fb0"/><polygon points="159,63 165,63 162,60" fill="#5a6fb0"/>
<polygon points="1250,601 1250,607 1247,604" fill="#a0a0a0"/><polygon points="1266,601 1266,607 1269,604" fill="#000"/>
<g style='font-family:"Liberation Sans",sans-serif;' text-rendering="geometricPrecision">
<text x="22" y="67" font-size="13" font-weight="normal" fill="#fff" textLength="25" lengthAdjust="spacingAndGlyphs" >SELL</text><text x="190" y="67" font-size="13" font-weight="normal" fill="#fff" textLength="23" lengthAdjust="spacingAndGlyphs" >BUY</text><text x="125" y="66" font-size="12.5" font-weight="normal" fill="#000" textLength="24" lengthAdjust="spacingAndGlyphs" >0.01</text><text x="29" y="106" font-size="12.5" font-weight="bold" fill="#fff" textLength="24" lengthAdjust="spacingAndGlyphs" >6.81</text><text x="56" y="106" font-size="35" font-weight="normal" fill="#fff" textLength="35" lengthAdjust="spacingAndGlyphs" >45</text><text x="96" y="90" font-size="11" font-weight="bold" fill="#fff" textLength="7" lengthAdjust="spacingAndGlyphs" >9</text><text x="139" y="106" font-size="12.5" font-weight="bold" fill="#fff" textLength="24" lengthAdjust="spacingAndGlyphs" >6.81</text><text x="169" y="106" font-size="35" font-weight="normal" fill="#fff" textLength="33" lengthAdjust="spacingAndGlyphs" >68</text><text x="207" y="90" font-size="11" font-weight="bold" fill="#fff" textLength="7" lengthAdjust="spacingAndGlyphs" >9</text><text x="1237" y="259" font-size="10" font-weight="normal" fill="#fff" textLength="33" lengthAdjust="spacingAndGlyphs" stroke="#fff" stroke-width="0.35">6.81459</text>
<text x="19" y="610" font-size="12" font-weight="normal" fill="#6d6d6d" textLength="80" lengthAdjust="spacingAndGlyphs" >EURUSD,Daily</text><text x="122" y="610" font-size="12" font-weight="normal" fill="#6d6d6d" textLength="83" lengthAdjust="spacingAndGlyphs" >AUDUSD,Daily</text><text x="226" y="610" font-size="12" font-weight="normal" fill="#6d6d6d" textLength="79" lengthAdjust="spacingAndGlyphs" >USDCHF,Daily</text><text x="327" y="610" font-size="12" font-weight="normal" fill="#6d6d6d" textLength="80" lengthAdjust="spacingAndGlyphs" >USDCAD,Daily</text><text x="521" y="610" font-size="12" font-weight="normal" fill="#6d6d6d" textLength="75" lengthAdjust="spacingAndGlyphs" >USDJPY,Daily</text><text x="618" y="610" font-size="12" font-weight="normal" fill="#6d6d6d" textLength="69" lengthAdjust="spacingAndGlyphs" >XAUUSD,H4</text><text x="711" y="610" font-size="12" font-weight="normal" fill="#6d6d6d" textLength="80" lengthAdjust="spacingAndGlyphs" >GBPUSD,Daily</text><text x="815" y="610" font-size="12" font-weight="normal" fill="#6d6d6d" textLength="64" lengthAdjust="spacingAndGlyphs" >SP500,M15</text><text x="904" y="610" font-size="12" font-weight="normal" fill="#6d6d6d" textLength="79" lengthAdjust="spacingAndGlyphs" >GBPUSD,Daily</text><text x="1006" y="610" font-size="12" font-weight="normal" fill="#6d6d6d" textLength="46" lengthAdjust="spacingAndGlyphs" >DJ30,H4</text><text x="1073" y="610" font-size="12" font-weight="normal" fill="#6d6d6d" textLength="71" lengthAdjust="spacingAndGlyphs" >TECH100,H1</text><text x="1168" y="610" font-size="12" font-weight="normal" fill="#6d6d6d" textLength="51" lengthAdjust="spacingAndGlyphs" >UKOil,H1</text><text x="430" y="610" font-size="12" font-weight="normal" fill="#000" textLength="70" lengthAdjust="spacingAndGlyphs" >USDCNH,H4</text>
</g>
</svg>
</body></html>
